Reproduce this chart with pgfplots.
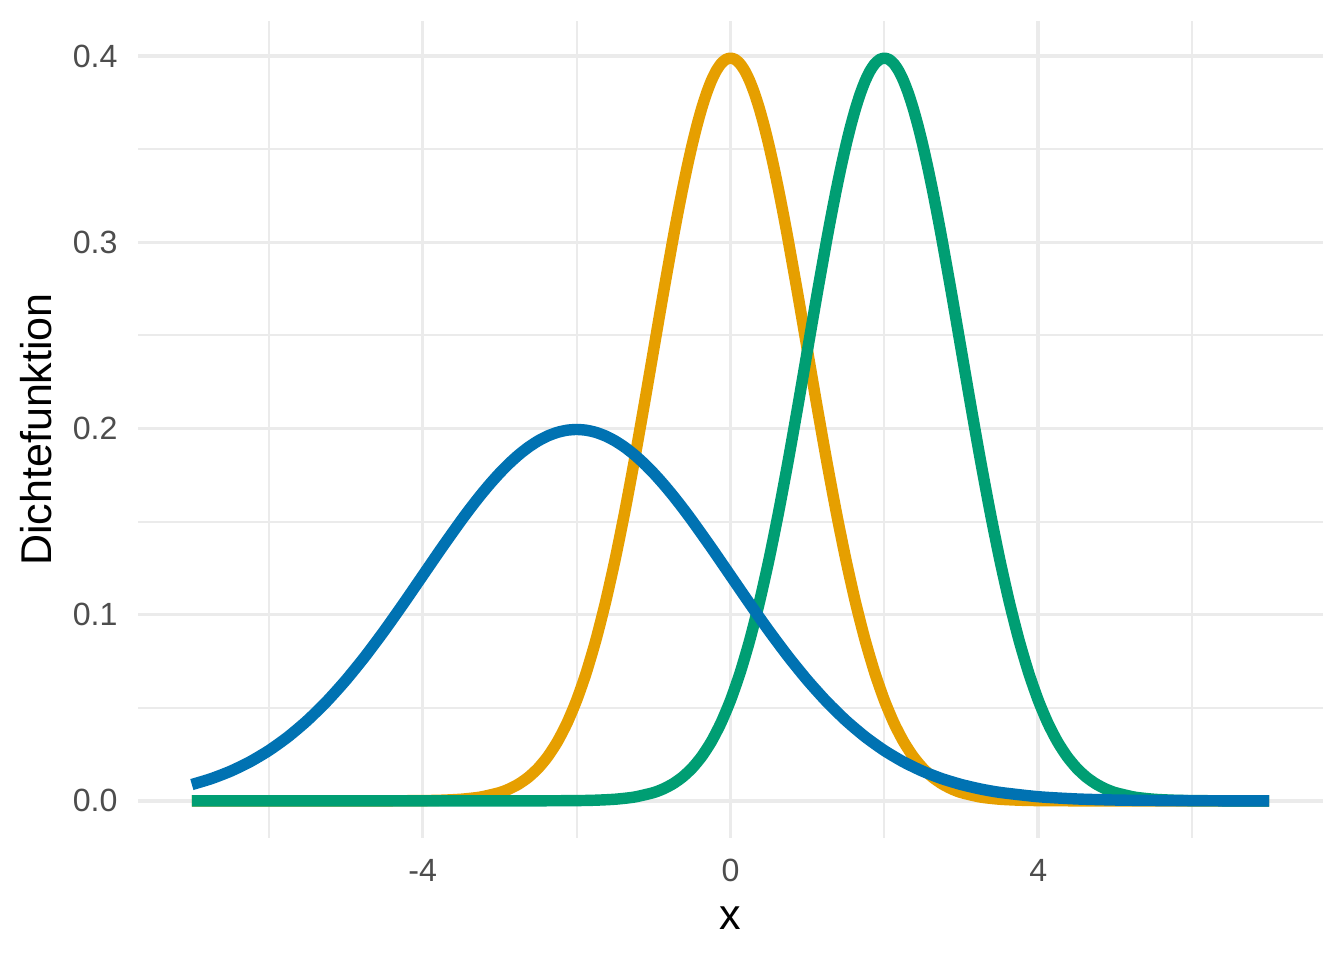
\documentclass[border=0pt]{standalone}
\usepackage{fontspec}
\setmainfont{Liberation Sans}
\usepackage{pgfplots}
\pgfplotsset{compat=1.18}
\definecolor{cOrange}{HTML}{E69F00}
\definecolor{cGreen}{HTML}{009E73}
\definecolor{cBlue}{HTML}{0072B2}
\definecolor{cGrid}{HTML}{EBEBEB}
\definecolor{cTick}{HTML}{4D4D4D}
\begin{document}
\begin{tikzpicture}
\useasboundingbox (-51.94pt,-45.92pt) rectangle (453.94pt,315.42pt);
\begin{axis}[
  at={(0,0)}, anchor=south west,
  scale only axis, width=446.03pt, height=307.52pt,
  xmin=-7.7, xmax=7.7, ymin=-0.01995, ymax=0.41889,
  axis line style={draw=none},
  major tick length=0pt, minor tick length=0pt,
  xtick={-4,0,4}, xticklabels={-4,0,4},
  ytick={0,0.1,0.2,0.3,0.4}, yticklabels={0.0,0.1,0.2,0.3,0.4},
  minor xtick={-6,-2,2,6},
  minor ytick={0.05,0.15,0.25,0.35},
  grid=both,
  major grid style={cGrid, line width=1.35pt},
  minor grid style={cGrid, line width=0.72pt},
  tick label style={font=\fontsize{12.1}{14}\selectfont, text=cTick, inner sep=0pt},
  xticklabel style={anchor=base, yshift=-16.2pt},
  yticklabel style={anchor=east, xshift=-7.5pt},
  xlabel={x}, ylabel={Dichtefunktion},
  label style={font=\fontsize{16.2}{19}\selectfont, text=black, inner sep=0pt},
  xlabel style={at={(axis description cs:0.5,-0.1114)}, anchor=base},
  ylabel style={at={(axis description cs:-0.0734,0.5)}, rotate=0, anchor=base},
  every axis plot/.append style={line width=4.3pt, line cap=butt, line join=round, smooth, tension=0.4},
]
\addplot[cOrange] coordinates {
(-7,0) (-6,0) (-5,0.0000015) (-4.5,0.000016) (-4,0.000134) (-3.75,0.000353) (-3.5,0.000873) (-3.25,0.002029)
(-3,0.004432) (-2.875,0.006398) (-2.75,0.009094) (-2.625,0.012724) (-2.5,0.017528) (-2.375,0.023772)
(-2.25,0.031740) (-2.125,0.041721) (-2,0.053991) (-1.875,0.068786) (-1.75,0.086277) (-1.625,0.106538)
(-1.5,0.129518) (-1.375,0.155013) (-1.25,0.182649) (-1.125,0.211877) (-1,0.241971) (-0.875,0.272055)
(-0.75,0.301137) (-0.6875,0.314974) (-0.625,0.328162) (-0.5625,0.340568) (-0.5,0.352065) (-0.4375,0.362532)
(-0.375,0.371855) (-0.3125,0.379930) (-0.25,0.386668) (-0.1875,0.391991) (-0.125,0.395837) (-0.0625,0.398164)
(0,0.398942)
(0.0625,0.398164) (0.125,0.395837) (0.1875,0.391991) (0.25,0.386668) (0.3125,0.379930) (0.375,0.371855)
(0.4375,0.362532) (0.5,0.352065) (0.5625,0.340568) (0.625,0.328162) (0.6875,0.314974) (0.75,0.301137)
(0.875,0.272055) (1,0.241971) (1.125,0.211877) (1.25,0.182649) (1.375,0.155013) (1.5,0.129518)
(1.625,0.106538) (1.75,0.086277) (1.875,0.068786) (2,0.053991) (2.125,0.041721) (2.25,0.031740)
(2.375,0.023772) (2.5,0.017528) (2.625,0.012724) (2.75,0.009094) (2.875,0.006398) (3,0.004432)
(3.25,0.002029) (3.5,0.000873) (3.75,0.000353) (4,0.000134) (4.5,0.000016) (5,0.0000015) (6,0) (7,0)
};
\addplot[cGreen] coordinates {
(-7,0) (-5,0) (-3,0.0000015) (-2.5,0.000016) (-2,0.000134) (-1.75,0.000353) (-1.5,0.000873) (-1.25,0.002029)
(-1,0.004432) (-0.875,0.006398) (-0.75,0.009094) (-0.625,0.012724) (-0.5,0.017528) (-0.375,0.023772)
(-0.25,0.031740) (-0.125,0.041721) (0,0.053991) (0.125,0.068786) (0.25,0.086277) (0.375,0.106538)
(0.5,0.129518) (0.625,0.155013) (0.75,0.182649) (0.875,0.211877) (1,0.241971) (1.125,0.272055)
(1.25,0.301137) (1.3125,0.314974) (1.375,0.328162) (1.4375,0.340568) (1.5,0.352065) (1.5625,0.362532)
(1.625,0.371855) (1.6875,0.379930) (1.75,0.386668) (1.8125,0.391991) (1.875,0.395837) (1.9375,0.398164)
(2,0.398942)
(2.0625,0.398164) (2.125,0.395837) (2.1875,0.391991) (2.25,0.386668) (2.3125,0.379930) (2.375,0.371855)
(2.4375,0.362532) (2.5,0.352065) (2.5625,0.340568) (2.625,0.328162) (2.6875,0.314974) (2.75,0.301137)
(2.875,0.272055) (3,0.241971) (3.125,0.211877) (3.25,0.182649) (3.375,0.155013) (3.5,0.129518)
(3.625,0.106538) (3.75,0.086277) (3.875,0.068786) (4,0.053991) (4.125,0.041721) (4.25,0.031740)
(4.375,0.023772) (4.5,0.017528) (4.625,0.012724) (4.75,0.009094) (4.875,0.006398) (5,0.004432)
(5.25,0.002029) (5.5,0.000873) (5.75,0.000353) (6,0.000134) (6.5,0.000016) (7,0.0000015)
};
\addplot[cBlue] coordinates {
(-7,0.008764) (-6.75,0.011886) (-6.5,0.015870) (-6.25,0.020861) (-6,0.026995) (-5.75,0.034393)
(-5.5,0.043139) (-5.25,0.053269) (-5,0.064759) (-4.75,0.077507) (-4.5,0.091325) (-4.25,0.105939)
(-4,0.120985) (-3.75,0.136028) (-3.5,0.150569) (-3.375,0.157487) (-3.25,0.164081) (-3.125,0.170284)
(-3,0.176033) (-2.875,0.181266) (-2.75,0.185928) (-2.625,0.189965) (-2.5,0.193334) (-2.375,0.195996)
(-2.25,0.197919) (-2.125,0.199082) (-2,0.199471) (-1.875,0.199082) (-1.75,0.197919) (-1.625,0.195996)
(-1.5,0.193334) (-1.375,0.189965) (-1.25,0.185928) (-1.125,0.181266) (-1,0.176033) (-0.875,0.170284)
(-0.75,0.164081) (-0.625,0.157487) (-0.5,0.150569) (-0.25,0.136028) (0,0.120985) (0.25,0.105939)
(0.5,0.091325) (0.75,0.077507) (1,0.064759) (1.25,0.053269) (1.5,0.043139) (1.75,0.034393)
(2,0.026995) (2.25,0.020861) (2.5,0.015870) (2.75,0.011886) (3,0.008764) (3.25,0.006362)
(3.5,0.004547) (4,0.002216) (4.5,0.001015) (5,0.000437) (5.5,0.000176) (6,0.000067)
(6.5,0.000024) (7,0.000008)
};
\end{axis}
\end{tikzpicture}
\end{document}
